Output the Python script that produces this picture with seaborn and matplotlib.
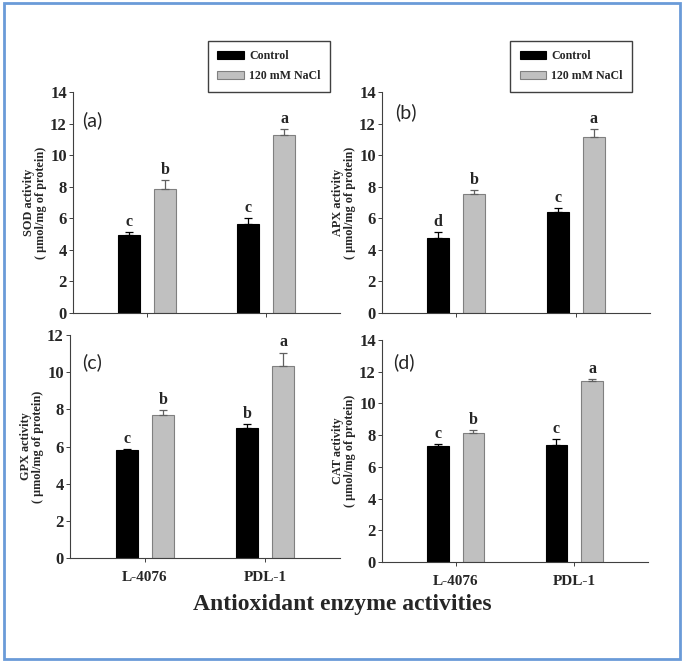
import matplotlib
matplotlib.use('Agg')
import matplotlib.pyplot as plt
import seaborn as sns
import pandas as pd
from matplotlib.patches import Rectangle

# data
genotypes = ['L-4076', 'PDL-1']
treatments = ['Control', '120 mM NaCl']

sod_ctrl = [4.95, 5.65]
sod_ctrl_err = [0.2, 0.4]
sod_nacl = [7.85, 11.3]
sod_nacl_err = [0.6, 0.35]
sod_letters = [['c', 'c'], ['b', 'a']]

apx_ctrl = [4.73, 6.4]
apx_ctrl_err = [0.38, 0.27]
apx_nacl = [7.55, 11.15]
apx_nacl_err = [0.27, 0.53]
apx_letters = [['d', 'c'], ['b', 'a']]

gpx_ctrl = [5.8, 7.0]
gpx_ctrl_err = [0.08, 0.2]
gpx_nacl = [7.7, 10.33]
gpx_nacl_err = [0.27, 0.72]
gpx_letters = [['c', 'b'], ['b', 'a']]

cat_ctrl = [7.33, 7.37]
cat_ctrl_err = [0.13, 0.38]
cat_nacl = [8.15, 11.4]
cat_nacl_err = [0.2, 0.17]
cat_letters = [['c', 'c'], ['b', 'a']]

sns.set_style('ticks')
plt.rcParams['font.family'] = ['Liberation Serif', 'DejaVu Serif']
plt.rcParams['font.weight'] = 'bold'

fig = plt.figure(figsize=(6.85, 6.64), dpi=100)

panels = [
    ('SOD', sod_ctrl, sod_ctrl_err, sod_nacl, sod_nacl_err, sod_letters, '(a)', 14,
     [0.1066, 0.5286, 0.390, 0.3328], (0.034, 0.873), True),
    ('APX', apx_ctrl, apx_ctrl_err, apx_nacl, apx_nacl_err, apx_letters, '(b)', 14,
     [0.5577, 0.5286, 0.391, 0.3328], (0.05, 0.91), True),
    ('GPX', gpx_ctrl, gpx_ctrl_err, gpx_nacl, gpx_nacl_err, gpx_letters, '(c)', 12,
     [0.1022, 0.1596, 0.394, 0.3358], (0.045, 0.88), False),
    ('CAT', cat_ctrl, cat_ctrl_err, cat_nacl, cat_nacl_err, cat_letters, '(d)', 14,
     [0.5577, 0.1536, 0.388, 0.3343], (0.04, 0.90), False),
]

pal = {'Control': 'black', '120 mM NaCl': '#c0c0c0'}
edges = {'Control': 'black', '120 mM NaCl': '#808080'}

for name, ctrl, ctrl_err, nacl, nacl_err, letters, tag, ymax, rect, tagpos, top in panels:
    ax = fig.add_axes(rect)
    df = pd.DataFrame({
        'genotype': genotypes * 2,
        'treatment': [treatments[0]] * 2 + [treatments[1]] * 2,
        'value': ctrl + nacl,
    })
    sns.barplot(data=df, x='genotype', y='value', hue='treatment', hue_order=treatments,
                palette=pal, width=0.6, gap=0.39, ax=ax, legend=top, saturation=1)

    errs = [ctrl_err, nacl_err]
    bar_conts = list(ax.containers)
    for k, cont in enumerate(bar_conts):
        tr = treatments[k]
        for j, bar in enumerate(cont):
            bar.set_edgecolor(edges[tr])
            bar.set_linewidth(0.8)
            cx = bar.get_x() + bar.get_width() / 2
            h = bar.get_height()
            e = errs[k][j]
            ax.errorbar(cx, h, yerr=[[0], [e]], fmt='none', ecolor='black' if k == 0 else '#606060',
                        elinewidth=0.9, capsize=3, capthick=0.9)
            ax.text(cx, h + e + 0.12, letters[k][j], ha='center', va='bottom',
                    fontsize=11.5, fontweight='bold')

    ax.set_xlim(-0.62, 1.62)
    ax.set_ylim(0, ymax)
    ax.set_yticks(range(0, ymax + 1, 2))
    ax.set_ylabel(name + ' activity\n( \u00b5mol/mg of protein)', fontsize=8.8,
                  fontweight='bold', linespacing=1.05, labelpad=2)
    ax.set_xlabel('')
    if top:
        ax.set_xticklabels([])
    else:
        ax.tick_params(axis='x', labelsize=11, pad=6)
    ax.tick_params(axis='y', labelsize=12, pad=1.5)
    ax.tick_params(length=3, width=0.7, color='#404040')
    for sp in ['top', 'right']:
        ax.spines[sp].set_visible(False)
    for sp in ['left', 'bottom']:
        ax.spines[sp].set_color('#404040')
        ax.spines[sp].set_linewidth(0.8)

    ax.text(tagpos[0], tagpos[1], tag, transform=ax.transAxes, fontsize=14,
            fontweight='normal', family=['Lato', 'DejaVu Sans'], va='center', ha='left')

    if top:
        x0 = 0.505 if name == 'SOD' else 0.478
        sns.move_legend(ax, 'lower left', bbox_to_anchor=(x0, 1.0), title=None,
                        frameon=True, fancybox=False, fontsize=8.6, handlelength=2.2,
                        handleheight=0.6, labelspacing=0.7, borderpad=0.8,
                        handletextpad=0.45, borderaxespad=0, edgecolor='#404040',
                        framealpha=1)
        leg = ax.get_legend()
        leg.get_frame().set_linewidth(1.0)
        for hnd, tr in zip(leg.legend_handles, treatments):
            hnd.set_edgecolor(edges[tr])
            hnd.set_linewidth(0.8)

fig.text(0.5, 0.089, 'Antioxidant enzyme activities', ha='center', va='center',
         fontsize=17, fontweight='bold')

fig.patches.append(Rectangle((4 / 685, 1 - 659 / 664), 676 / 685, 656 / 664,
                             transform=fig.transFigure, fill=False,
                             edgecolor='#6a9bd8', linewidth=2))

fig.savefig('out.png', dpi=100)
